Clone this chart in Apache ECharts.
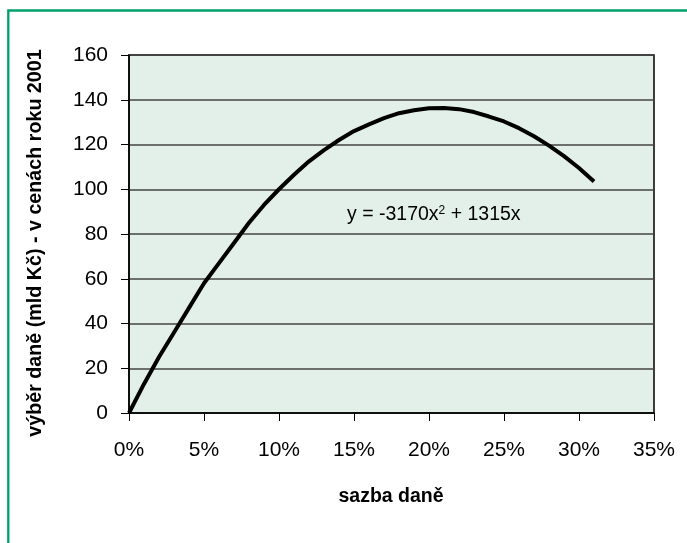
<!DOCTYPE html>
<html><head><meta charset="utf-8">
<script src="https://cdn.jsdelivr.net/npm/echarts@6/dist/echarts.min.js"></script>
<style>html,body{margin:0;padding:0;background:#fff}#c{width:687px;height:543px}</style>
</head><body><div id="c"></div>
<script>
var rates = [0,0.01,0.02,0.03,0.04,0.05,0.06,0.07,0.08,0.09,0.10,0.11,0.12,0.13,0.14,0.15,0.16,0.17,0.18,0.19,0.20,0.21,0.22,0.23,0.24,0.25,0.26,0.27,0.28,0.29,0.30,0.31];
var revenue = [0,13,25,36,47,58,67,76,85,93,100,106.5,112.5,117.5,122,126,129,131.8,134,135.3,136.2,136.3,135.8,134.5,132.5,130.3,127.3,123.7,119.5,114.8,109.5,103.5];
var yTicks = {min:0,max:160,interval:20};
var xTicks = {min:0,max:0.35,interval:0.05};
var xTitle = 'sazba daně';
var yTitle = 'výběr daně (mld Kč) - v cenách roku 2001';
var eqText = 'y = -3170x{sup|2} + 1315x';

var chart = echarts.init(document.getElementById('c'));
var F = 'Liberation Sans, Arial, sans-serif';
chart.setOption({
  animation:false,
  grid:{left:129,right:33,top:55,bottom:130,show:true,backgroundColor:'#e3f0ea',borderColor:'#000',borderWidth:1.5},
  xAxis:{type:'value',min:xTicks.min,max:xTicks.max,interval:xTicks.interval,
    axisLine:{show:true,lineStyle:{color:'#000',width:1.5}},
    axisTick:{show:true,inside:false,length:8,lineStyle:{color:'#000'}},
    splitLine:{show:false},
    axisLabel:{margin:27,fontFamily:F,fontSize:21,color:'#000',formatter:function(v){return Math.round(v*100)+'%';}}},
  yAxis:{type:'value',min:yTicks.min,max:yTicks.max,interval:yTicks.interval,
    axisLine:{show:true,lineStyle:{color:'#000',width:1.5}},
    axisTick:{show:true,inside:false,length:8,lineStyle:{color:'#000'}},
    splitLine:{show:true,lineStyle:{color:'#444',width:1.5}},
    axisLabel:{margin:21,fontFamily:F,fontSize:21,color:'#000'}},
  series:[{type:'line',data:rates.map(function(r,i){return [r,revenue[i]];}),
    showSymbol:false,lineStyle:{color:'#000',width:4},z:5}],
  graphic:[
    {type:'rect',shape:{x:8.3,y:10.5,width:720,height:600},style:{fill:'none',stroke:'#00a06a',lineWidth:2.3},silent:true},
    {type:'text',x:391,y:497,style:{text:xTitle,font:'bold 19.5px '+F,fill:'#000',textAlign:'center',textVerticalAlign:'middle'}},
    {type:'text',x:36,y:243,rotation:Math.PI/2,style:{text:yTitle,font:'bold 19.7px '+F,fill:'#000',textAlign:'center',textVerticalAlign:'middle'}},
    {type:'text',x:347,y:215,z:10,style:{text:eqText,font:'19.5px '+F,fill:'#000',textVerticalAlign:'middle',
      rich:{sup:{fontSize:12,fontFamily:F,verticalAlign:'top',padding:[0,0,9,0]}}}}
  ]
});
</script></body></html>
